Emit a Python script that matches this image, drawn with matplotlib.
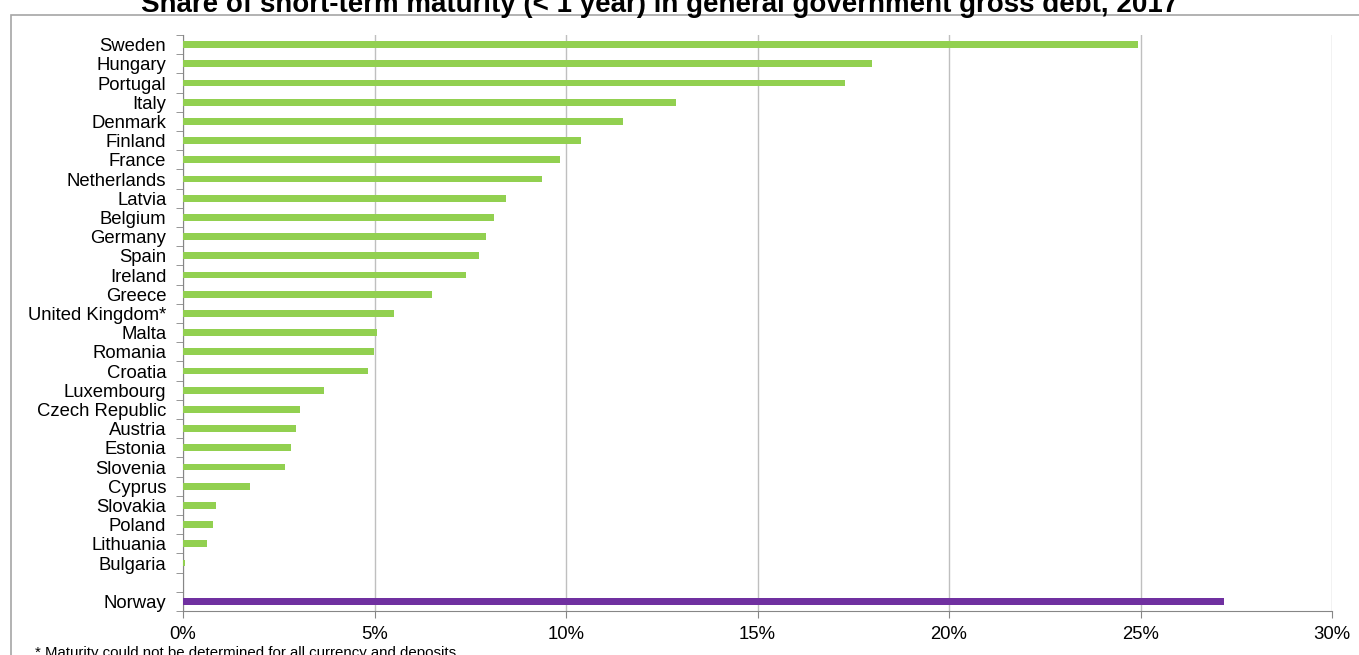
import matplotlib.pyplot as plt
import matplotlib.patches as patches
import numpy as np

plt.rcParams['font.family'] = ['Liberation Sans', 'DejaVu Sans']

countries = ['Sweden', 'Hungary', 'Portugal', 'Italy', 'Denmark', 'Finland', 'France',
             'Netherlands', 'Latvia', 'Belgium', 'Germany', 'Spain', 'Ireland', 'Greece',
             'United Kingdom*', 'Malta', 'Romania', 'Croatia', 'Luxembourg', 'Czech Republic',
             'Austria', 'Estonia', 'Slovenia', 'Cyprus', 'Slovakia', 'Poland', 'Lithuania',
             'Bulgaria']
shares = [24.93, 17.99, 17.28, 12.87, 11.49, 10.39, 9.84, 9.37, 8.43, 8.12, 7.91, 7.73,
          7.39, 6.50, 5.51, 5.07, 4.99, 4.83, 3.68, 3.05, 2.95, 2.82, 2.66, 1.75, 0.86,
          0.78, 0.63, 0.05]
norway_label = 'Norway'
norway_share = 27.18
xticks = [0, 5, 10, 15, 20, 25, 30]

green = '#92D050'
purple = '#7030A0'
gray = '#868686'

fig = plt.figure(figsize=(13.59, 6.55), dpi=100)
ax = fig.add_axes([183 / 1359, 1 - 611 / 655, (1332 - 183) / 1359, (611 - 35) / 655])

# outer frame of the chart area
fig.patches.append(patches.Rectangle((11 / 1359, -0.1), 1.2, 1 - 15 / 655 + 0.1,
                                     transform=fig.transFigure, fill=False,
                                     edgecolor='#A6A6A6', linewidth=1.2))

pos = np.arange(len(countries))
ax.barh(pos, shares, height=0.36, color=green, zorder=3)
norway_pos = len(countries) + 1
ax.barh([norway_pos], [norway_share], height=0.36, color=purple, zorder=3)

labels = countries + ['', norway_label]
ax.set_yticks(list(pos) + [len(countries), norway_pos])
ax.set_yticklabels(labels, fontsize=13.3)
ax.tick_params(axis='y', which='major', length=0, pad=12)
ax.set_yticks(np.arange(-0.5, norway_pos + 1, 1), minor=True)
ax.tick_params(axis='y', which='minor', length=5, direction='out', color=gray)
ax.set_ylim(norway_pos + 0.5, -0.5)

ax.set_xlim(0, 30)
ax.set_xticks(xticks)
ax.set_xticklabels([f'{t}%' for t in xticks], fontsize=13.3)
ax.tick_params(axis='x', length=5, direction='out', color=gray, pad=6)
ax.grid(axis='x', color='#BFBFBF', linewidth=1, zorder=0)

for s in ['top', 'right']:
    ax.spines[s].set_visible(False)
for s in ['left', 'bottom']:
    ax.spines[s].set_color(gray)

fig.text(660 / 1359, 1 - 12 / 655,
         'Share of short-term maturity (< 1 year) in general government gross debt, 2017',
         ha='center', va='baseline', fontsize=20, fontweight='bold')
fig.text(35 / 1359, 1 - 657 / 655,
         '* Maturity could not be determined for all currency and deposits',
         ha='left', va='baseline', fontsize=10.8)

plt.savefig('out.png', dpi=100)
